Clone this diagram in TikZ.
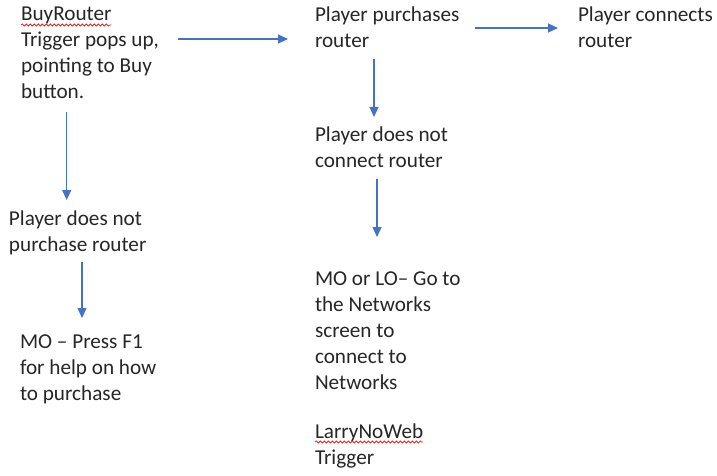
\documentclass[tikz,border=0pt]{standalone}
\usepackage{fontspec}
\setmainfont{Carlito}
\usetikzlibrary{arrows.meta,decorations.pathmorphing}
\definecolor{flowblue}{HTML}{4472C4}
\definecolor{spellred}{HTML}{E0282A}
\definecolor{inkgray}{HTML}{262626}
\newcommand{\blocktext}[1]{\begin{tabular}[t]{@{}l@{}}#1\end{tabular}}
\newcommand{\stepfont}{\fontsize{21.2}{26}\selectfont}
\newlength{\wbuyrouter}
\newlength{\wlarry}
\begin{document}
\settowidth{\wbuyrouter}{\stepfont BuyRouter}%
\settowidth{\wlarry}{\stepfont LarryNoWeb}%
\begin{tikzpicture}[x=1pt,y=-1pt,
  step text/.style={anchor=base west,inner sep=0pt,outer sep=0pt,
    font=\stepfont,text=inkgray},
  flowarrow/.style={draw=flowblue,line width=1.2pt,
    -{Triangle[length=10pt,width=9pt]}},
  squiggle/.style={draw=spellred,line width=0.8pt,
    decorate,decoration={snake,amplitude=1pt,segment length=4pt}}]
\useasboundingbox (0,0) rectangle (717,476);

% steps of the flow
\node[step text] (trig) at (21,21)
  {\blocktext{BuyRouter\\Trigger pops up,\\pointing to Buy\\button.}};
\node[step text] (buy) at (315,22)
  {\blocktext{Player purchases\\router}};
\node[step text] (conn) at (578,22)
  {\blocktext{Player connects\\router}};
\node[step text] (noconn) at (315,142)
  {\blocktext{Player does not\\connect router}};
\node[step text] (netw) at (315,285)
  {\blocktext{MO or LO– Go to\\the Networks\\screen to\\connect to\\Networks}};
\node[step text] (larry) at (315,438)
  {\blocktext{LarryNoWeb\\Trigger}};
\node[step text] (nobuy) at (9,225)
  {\blocktext{Player does not\\purchase router}};
\node[step text] (help) at (20,348)
  {\blocktext{MO – Press F1\\for help on how\\to purchase}};

% spell-check marks under the trigger names
\coordinate (sq1) at ([yshift=-4pt]trig.base west);
\coordinate (sq2) at ([yshift=-4pt]larry.base west);
\draw[squiggle] (sq1) -- ([xshift=\wbuyrouter]sq1);
\draw[squiggle] (sq2) -- ([xshift=\wlarry]sq2);

% arrow end points
\coordinate (a1) at (178,39);   \coordinate (a2) at (288,39);
\coordinate (b1) at (475,28);   \coordinate (b2) at (558,28);
\coordinate (c1) at (374,59);   \coordinate (c2) at (374,117);
\coordinate (d1) at (377,179);  \coordinate (d2) at (377,237);
\coordinate (e1) at (66.7,112); \coordinate (e2) at (66.7,200);
\coordinate (f1) at (82,262);   \coordinate (f2) at (82,318);

\draw[flowarrow] (a1) -- (a2);
\draw[flowarrow] (b1) -- (b2);
\draw[flowarrow] (c1) -- (c2);
\draw[flowarrow] (d1) -- (d2);
\draw[flowarrow] (e1) -- (e2);
\draw[flowarrow] (f1) -- (f2);
\end{tikzpicture}
\end{document}
